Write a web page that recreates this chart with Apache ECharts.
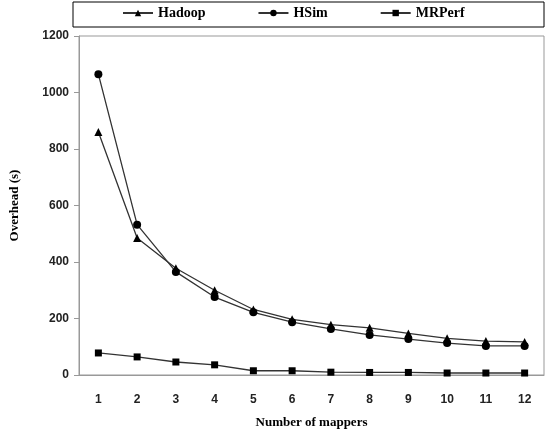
<!DOCTYPE html>
<html>
<head>
<meta charset="utf-8">
<script src="https://cdn.jsdelivr.net/npm/echarts@6/dist/echarts.min.js"></script>
<style>
  html, body { margin: 0; padding: 0; background: #fff; }
  #chart { width: 549px; height: 434px; }
</style>
</head>
<body>
<div id="chart"></div>
<script>
// data
const mappers = ['1', '2', '3', '4', '5', '6', '7', '8', '9', '10', '11', '12']
const hadoop = [860, 485, 378, 300, 232, 197, 178, 167, 147, 130, 120, 117]
const hsim = [1065, 532, 365, 276, 222, 187, 163, 142, 127, 113, 103, 103]
const mrperf = [78, 64, 46, 36, 15, 15, 10, 9, 9, 7, 7, 7]

const serif = '"Liberation Serif", "DejaVu Serif", serif'
const sans = '"Liberation Sans", Arial, sans-serif'

function makeSeries(name, data, symbol, size) {
  return {
    name: name,
    type: 'line',
    data: data,
    symbol: symbol,
    symbolSize: size,
    itemStyle: { color: '#000' },
    lineStyle: { color: '#333', width: 1.3 },
    animation: false
  }
}

const myChart = echarts.init(document.getElementById('chart'))
const options = {
  backgroundColor: '#fff',
  graphic: [{
    type: 'rect',
    shape: { x: 73, y: 2, width: 471, height: 25 },
    style: { fill: 'none', stroke: '#000', lineWidth: 1 }
  }],
  legend: {
    top: 6,
    left: 122,
    padding: 0,
    itemWidth: 30,
    itemHeight: 8,
    itemGap: 52,
    textStyle: { fontFamily: serif, fontWeight: 'bold', fontSize: 14, color: '#000' },
    data: ['Hadoop', 'HSim', 'MRPerf']
  },
  grid: {
    left: 73,
    right: 5,
    top: 36,
    bottom: 59,
    show: true,
    borderColor: '#999',
    borderWidth: 1
  },
  xAxis: {
    type: 'category',
    data: mappers,
    boundaryGap: true,
    name: 'Number of mappers',
    nameLocation: 'middle',
    nameGap: 41,
    nameTextStyle: { fontFamily: serif, fontWeight: 'bold', fontSize: 13, color: '#000' },
    axisLine: { lineStyle: { color: '#999' } },
    axisTick: { show: false },
    axisLabel: { margin: 19, fontFamily: sans, fontWeight: 'bold', fontSize: 12, color: '#222' }
  },
  yAxis: {
    type: 'value',
    min: 0,
    max: 1200,
    interval: 200,
    name: 'Overhead (s)',
    nameLocation: 'middle',
    nameGap: 58,
    nameTextStyle: { fontFamily: serif, fontWeight: 'bold', fontSize: 13, color: '#000' },
    axisLine: { show: true, lineStyle: { color: '#999' } },
    axisTick: { show: true, length: 5, lineStyle: { color: '#999' } },
    axisLabel: {
      margin: 10, fontFamily: sans, fontWeight: 'bold', fontSize: 12, color: '#222',
      formatter: function (v) { return String(v) }
    },
    splitLine: { show: false }
  },
  series: [
    makeSeries('Hadoop', hadoop, 'triangle', 8),
    makeSeries('HSim', hsim, 'circle', 8),
    makeSeries('MRPerf', mrperf, 'rect', 7)
  ]
}
myChart.setOption(options)
window.onresize = myChart.resize
</script>
</body>
</html>
